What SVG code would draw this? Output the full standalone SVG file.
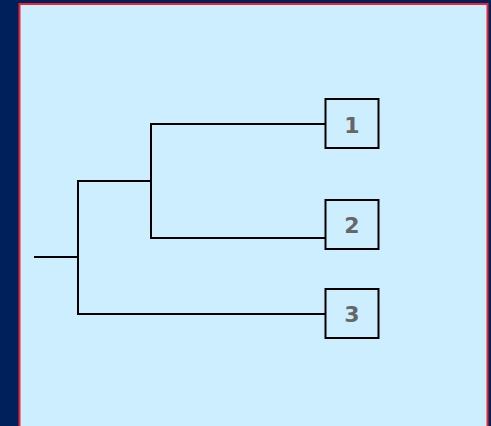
<svg xmlns="http://www.w3.org/2000/svg" width="491" height="426" viewBox="0 0 491 426">
<style>
.edge{fill:none;stroke:#000;stroke-width:2;stroke-linecap:square}
.box{fill:#cceeff;stroke:#000;stroke-width:2}
.lbl{font-family:"DejaVu Sans",Verdana,sans-serif;font-weight:bold;font-size:22px;fill:#666;text-anchor:middle}
</style>
<rect x="0" y="0" width="491" height="426" fill="#00205b"/>
<rect x="19.5" y="4" width="468" height="424" fill="#cceeff" stroke="#ee2233" stroke-width="2"/>
<g id="connectors">
<path class="edge" d="M35 257H78M78 181V314M78 181H151M151 124V238M151 124H325M151 238H325M78 314H325"/>
</g>
<g id="n1"><rect class="box" x="325.5" y="99" width="53" height="49"/><text class="lbl" x="352" y="133">1</text></g>
<g id="n2"><rect class="box" x="325.5" y="200" width="53" height="49"/><text class="lbl" x="352" y="233">2</text></g>
<g id="n3"><rect class="box" x="325.5" y="289" width="53" height="49"/><text class="lbl" x="352" y="322">3</text></g>
</svg>
